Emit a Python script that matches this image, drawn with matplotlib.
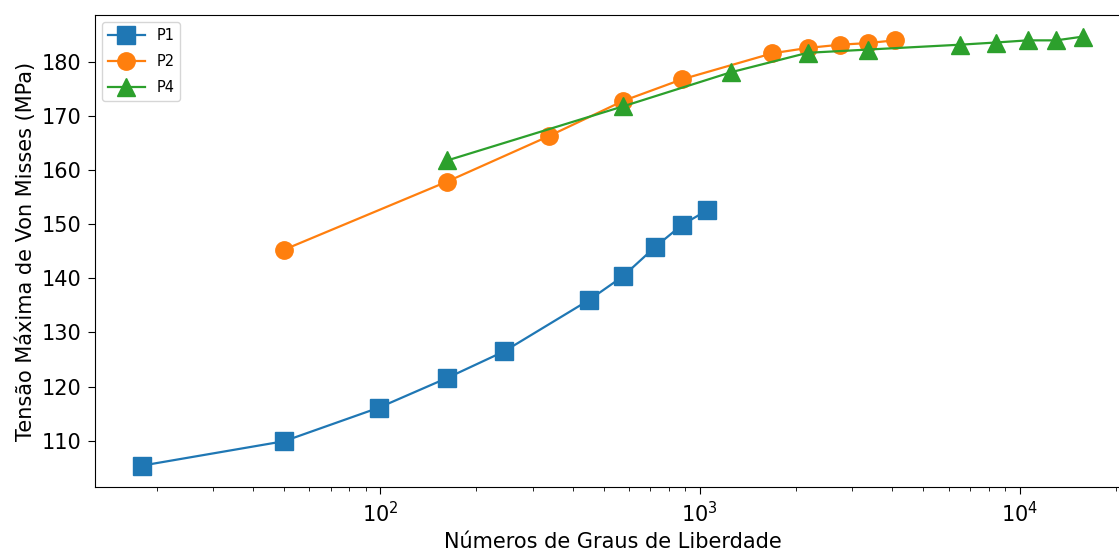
import matplotlib
matplotlib.use('Agg')
import matplotlib.pyplot as plt

# Degrees of freedom vs. max Von Mises stress for each mesh type
dof_p1 = [18, 50, 99, 162, 244, 450, 575, 724, 880, 1055]
stress_p1 = [105.4, 109.9, 116.1, 121.6, 126.5, 136.0, 140.4, 145.8, 149.9, 152.6]

dof_p2 = [50, 162, 337, 575, 879, 1683, 2173, 2748, 3357, 4064]
stress_p2 = [145.3, 157.9, 166.3, 172.8, 176.8, 181.6, 182.6, 183.2, 183.5, 184.0]

dof_p4 = [162, 575, 1250, 2173, 3357, 6516, 8414, 10590, 13000, 15810]
stress_p4 = [161.8, 171.8, 178.1, 181.7, 182.3, 183.2, 183.6, 184.0, 184.0, 184.7]

fig = plt.figure(figsize=(11.19, 5.5), dpi=100)
ax = fig.add_axes([0.085, 0.1145, 0.925, 0.858])

ax.plot(dof_p1, stress_p1, marker='s', markersize=12.5, linewidth=1.6, label='P1')
ax.plot(dof_p2, stress_p2, marker='o', markersize=12.5, linewidth=1.6, label='P2')
ax.plot(dof_p4, stress_p4, marker='^', markersize=12.5, linewidth=1.6, label='P4')

ax.set_xscale('log')
ax.set_xlabel('Números de Graus de Liberdade', fontsize=15)
ax.set_ylabel('Tensão Máxima de Von Misses (MPa)', fontsize=15)
ax.tick_params(which='major', labelsize=15, length=5, pad=5)
ax.tick_params(which='minor', length=3)
ax.legend(loc='upper left', fontsize=10.5, handlelength=2.5, labelspacing=0.75)

fig.savefig('out.png', dpi=100)
